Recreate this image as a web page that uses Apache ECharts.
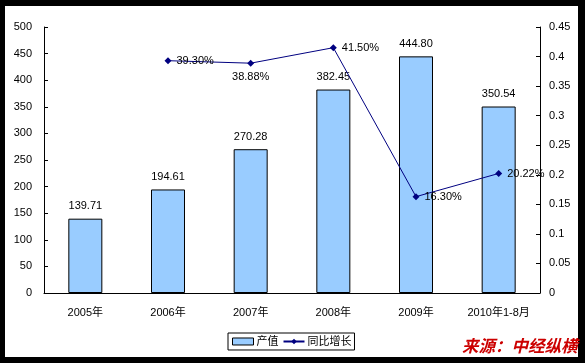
<!DOCTYPE html>
<html><head><meta charset="utf-8">
<script src="https://cdn.jsdelivr.net/npm/echarts@6/dist/echarts.min.js"></script>
<style>
html,body{margin:0;padding:0;background:#000;width:585px;height:363px;overflow:hidden;}
#bg{position:absolute;left:5px;top:6px;width:573px;height:351px;background:#fff;}
#c{position:absolute;left:0;top:0;width:585px;height:363px;}
</style></head>
<body><div id="bg"></div><div id="c"></div>
<script>
var categories = ['2005年','2006年','2007年','2008年','2009年','2010年1-8月'];
var outputValues = [139.71, 194.61, 270.28, 382.45, 444.80, 350.54];
var growthValues = [null, 0.3930, 0.3888, 0.4150, 0.1630, 0.2022];
var growthLabelPos = [null, 'right', 'bottom', 'right', 'right', 'right'];
var seriesNames = ['产值', '同比增长'];
var sourceText = '来源：中经纵横';

var FONT = '"Liberation Sans", Arial, "Noto Sans CJK SC", sans-serif';
var chart = echarts.init(document.getElementById('c'), null, {renderer:'canvas'});
var lineData = growthValues.map(function(v, i){
  if (v === null) return null;
  return {value: v, label: {position: growthLabelPos[i]}};
});
chart.setOption({
  animation: false,
  textStyle: {fontFamily: FONT, color: '#000'},
  grid: {left: 44, right: 45, top: 27, bottom: 70},
  legend: {
    left: 228, top: 333,
    borderColor: '#000', borderWidth: 1, borderRadius: 0,
    padding: [3, 3, 3, 4], itemGap: 4, itemWidth: 21, itemHeight: 7,
    textStyle: {fontSize: 11, color: '#000', fontFamily: FONT, padding: [0,0,0,-2]},
    data: [{name: seriesNames[0], icon: 'rect', itemStyle:{borderColor:'#000',borderWidth:1}}, {name: seriesNames[1]}]
  },
  xAxis: {
    type: 'category', data: categories, boundaryGap: true,
    axisLine: {lineStyle: {color: '#000', width: 1}},
    axisTick: {inside: true, length: 4, lineStyle: {color: '#000'}},
    axisLabel: {fontSize: 11, color: '#000', margin: 14, interval: 0}
  },
  yAxis: [{
    type: 'value', min: 0, max: 500, interval: 50,
    axisLine: {show: true, lineStyle: {color: '#000'}},
    axisTick: {show: true, inside: true, length: 4, lineStyle: {color: '#000'}},
    axisLabel: {fontSize: 11, color: '#000', margin: 12},
    splitLine: {show: false}
  }, {
    type: 'value', min: 0, max: 0.45, interval: 0.05, position: 'right',
    axisLine: {show: true, lineStyle: {color: '#000'}},
    axisTick: {show: true, inside: true, length: 4, lineStyle: {color: '#000'}},
    axisLabel: {fontSize: 11, color: '#000', margin: 9, formatter: function(v){ return String(+v.toFixed(2)); }},
    splitLine: {show: false}
  }],
  series: [{
    name: seriesNames[0], type: 'bar', data: outputValues, barWidth: 34,
    itemStyle: {color: '#99CCFF', borderColor: '#000', borderWidth: 1},
    label: {show: true, position: 'top', distance: 7, fontSize: 11, color: '#000',
      formatter: function(p){ return p.value.toFixed(2); }}
  }, {
    name: seriesNames[1], type: 'line', yAxisIndex: 1, data: lineData,
    symbol: 'diamond', symbolSize: 7, connectNulls: false,
    lineStyle: {color: '#000080', width: 1}, itemStyle: {color: '#000080'},
    label: {show: true, fontSize: 11, color: '#000', distance: 5,
      formatter: function(p){ return (p.value*100).toFixed(2) + '%'; }},
    z: 3
  }],
  graphic: [{
    type: 'text', left: 462, top: 337,
    style: {text: sourceText, fill: '#CC0000', fontSize: 16.5, fontWeight: 'bold', fontStyle: 'italic',
      fontFamily: '"Noto Sans CJK SC", sans-serif'}
  }]
});
</script></body></html>
